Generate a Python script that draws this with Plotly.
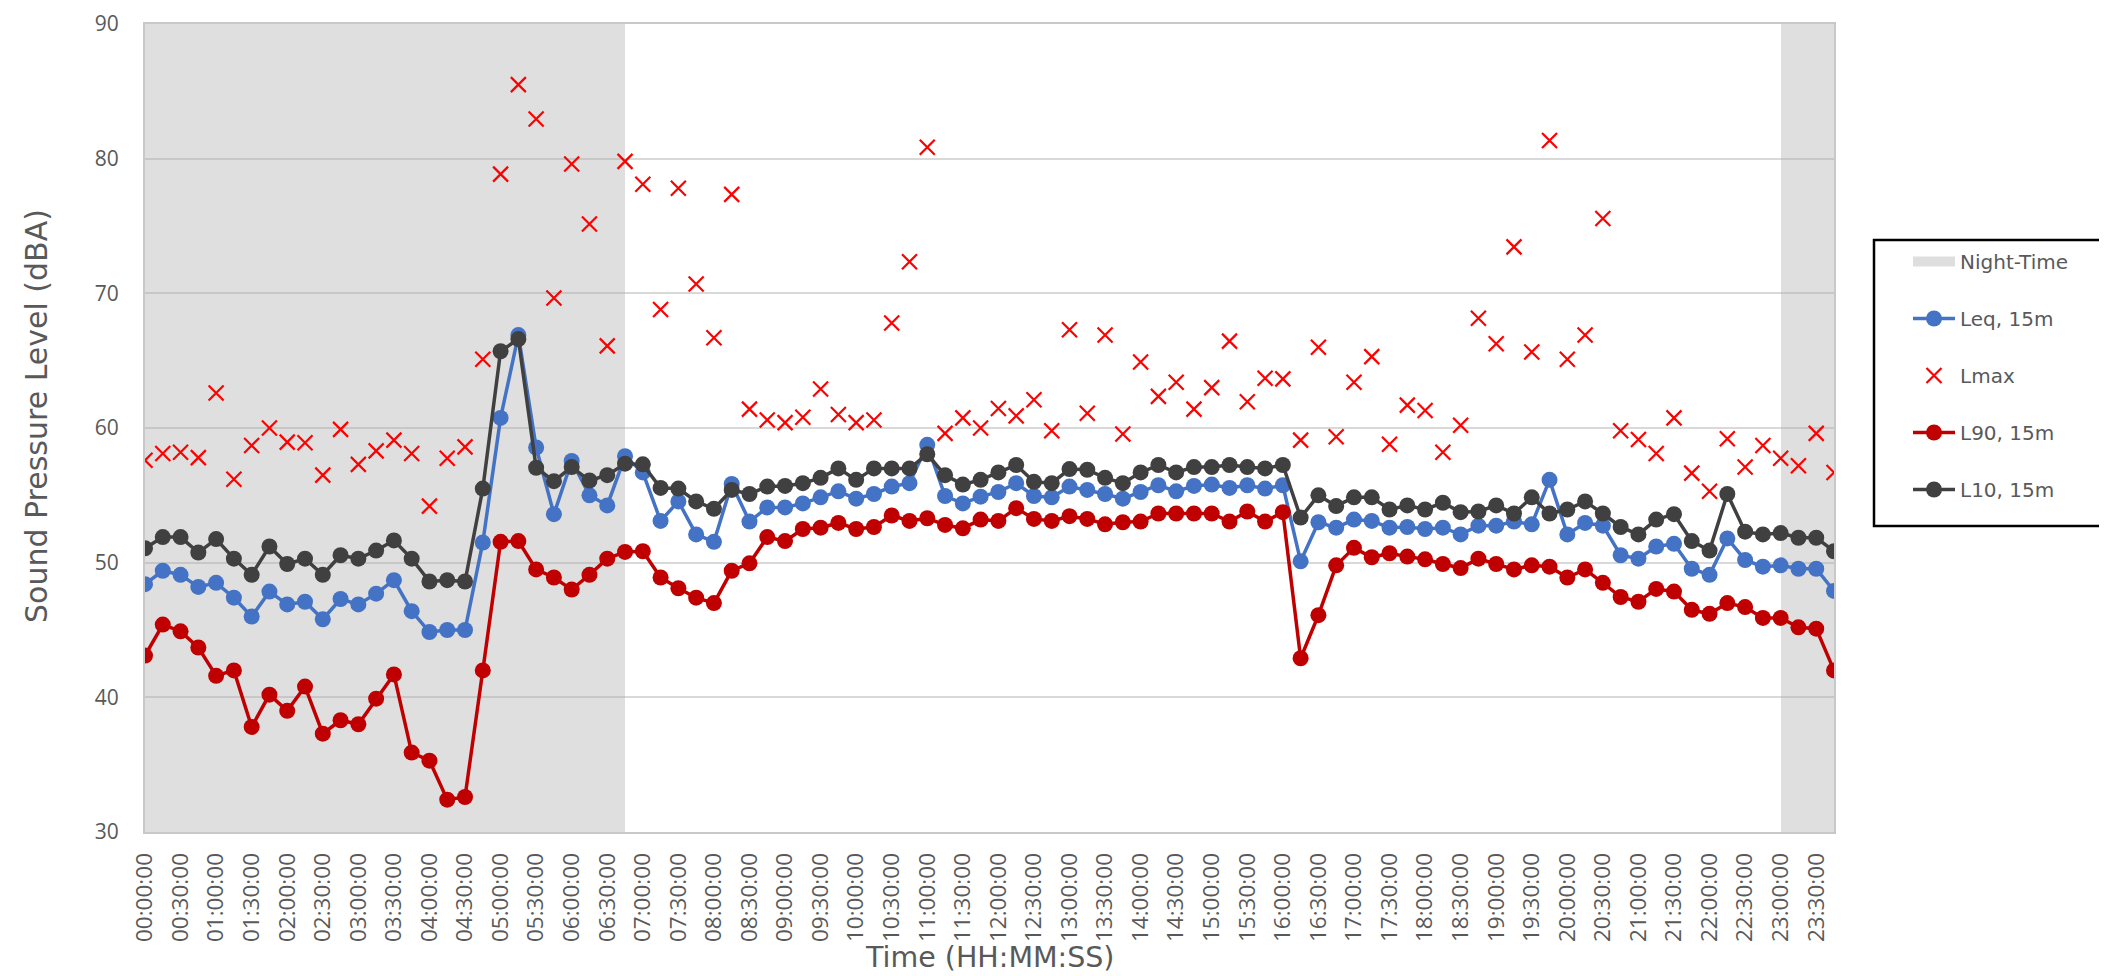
import plotly.graph_objects as go

# ---- data ----
times = [f"{h:02d}:{m:02d}:00" for h in range(24) for m in (0, 15, 30, 45)]
tick_labels = times[::2]

leq = [48.4, 49.4, 49.1, 48.2, 48.5, 47.4, 46.0, 47.85, 46.9, 47.1, 45.8, 47.3, 46.9, 47.7,
       48.7, 46.4, 44.85, 45.0, 45.0, 51.5, 60.75, 66.9, 58.55, 53.6, 57.55, 55.0, 54.25, 57.9,
       56.7, 53.1, 54.55, 52.1, 51.55, 55.85, 53.05, 54.1, 54.1, 54.4, 54.85, 55.3, 54.75, 55.1,
       55.65, 55.9, 58.75, 54.95, 54.4, 54.9, 55.25, 55.9, 54.95, 54.85, 55.65, 55.4, 55.1,
       54.75, 55.25, 55.75, 55.3, 55.7, 55.8, 55.55, 55.75, 55.5, 55.75, 50.1, 53.0, 52.6, 53.2,
       53.1, 52.6, 52.65, 52.5, 52.6, 52.1, 52.75, 52.75, 53.05, 52.85, 56.15, 52.1,
       52.95, 52.75, 50.55, 50.3, 51.2, 51.4, 49.55, 49.1, 51.8, 50.2, 49.7, 49.8, 49.55, 49.55, 47.9]

lmax = [57.6, 58.1, 58.2, 57.8, 62.6, 56.2, 58.7, 60.0, 58.95, 58.9, 56.5, 59.9, 57.3, 58.3,
        59.1, 58.1, 54.2, 57.75, 58.6, 65.1, 78.85, 85.5, 82.95, 69.65, 79.6, 75.15, 66.1, 79.8,
        78.1, 68.8, 77.8, 70.7, 66.7, 77.35, 61.4, 60.6, 60.4, 60.8, 62.9, 61.0, 60.4, 60.6,
        67.8, 72.35, 80.85, 59.6, 60.75, 60.0, 61.45, 60.9, 62.1, 59.8, 67.3, 61.1, 66.9,
        59.55, 64.9, 62.35, 63.4, 61.4, 63.0, 66.45, 61.95, 63.7, 63.65, 59.1, 66.0, 59.35, 63.4,
        65.3, 58.8, 61.7, 61.3, 58.2, 60.2, 68.15, 66.25, 73.45, 65.65, 81.35, 65.1,
        66.9, 75.55, 59.8, 59.15, 58.1, 60.75, 56.65, 55.3, 59.2, 57.1, 58.7, 57.75, 57.2, 59.6, 56.7]

l90 = [43.1, 45.4, 44.9, 43.7, 41.6, 42.0, 37.8, 40.2, 39.0, 40.8, 37.3, 38.3, 38.0, 39.9,
       41.7, 35.9, 35.3, 32.4, 32.6, 42.0, 51.55, 51.6, 49.5, 48.9, 48.0, 49.1, 50.3, 50.8,
       50.85, 48.9, 48.1, 47.4, 47.0, 49.4, 49.95, 51.9, 51.6, 52.5, 52.6, 52.95, 52.5, 52.65,
       53.5, 53.1, 53.3, 52.8, 52.55, 53.2, 53.1, 54.05, 53.25, 53.1, 53.45, 53.25, 52.85,
       53.0, 53.05, 53.65, 53.65, 53.65, 53.65, 53.05, 53.8, 53.05, 53.75, 42.9, 46.1, 49.8, 51.1,
       50.4, 50.7, 50.45, 50.25, 49.9, 49.6, 50.3, 49.9, 49.5, 49.8, 49.7, 48.9,
       49.5, 48.5, 47.45, 47.1, 48.05, 47.85, 46.5, 46.2, 47.0, 46.7, 45.9, 45.9, 45.2, 45.1, 42.0]

l10 = [51.07, 51.9, 51.9, 50.75, 51.75, 50.3, 49.1, 51.2, 49.9, 50.3, 49.1, 50.55, 50.3, 50.9,
       51.65, 50.3, 48.6, 48.7, 48.6, 55.5, 65.7, 66.6, 57.05, 56.05, 57.1, 56.1, 56.5, 57.35,
       57.3, 55.55, 55.5, 54.55, 54.0, 55.4, 55.1, 55.65, 55.7, 55.9, 56.3, 57.0, 56.15, 57.0,
       57.0, 57.0, 58.05, 56.5, 55.8, 56.15, 56.7, 57.25, 56.0, 55.9, 56.95, 56.9, 56.3,
       55.9, 56.7, 57.25, 56.7, 57.1, 57.1, 57.25, 57.1, 57.0, 57.25, 53.35, 55.0, 54.2, 54.85,
       54.85, 53.95, 54.25, 53.95, 54.45, 53.75, 53.8, 54.25, 53.65, 54.85, 53.65, 53.95,
       54.55, 53.65, 52.65, 52.1, 53.2, 53.6, 51.6, 50.9, 55.1, 52.3, 52.1, 52.2, 51.85, 51.85, 50.85]

# night-time periods (23:00 - 07:00)
night_times = times[0:27] + times[92:96]
night_base = 30
night_top = 90

# ---- styling ----
FONT = "Open Sans"
TFONT = "DejaVu Sans"
GREY_TXT = "#595959"
C_LEQ = "#4472C4"
C_L90 = "#C00000"
C_L10 = "#404040"
C_LMAX = "#FF0000"
C_NIGHT = "rgba(170,170,170,0.38)"

fig = go.Figure()

fig.add_trace(go.Bar(
    x=night_times, y=[night_top - night_base] * len(night_times), base=night_base,
    width=1, offset=0, marker=dict(color=C_NIGHT, line=dict(width=0)),
    showlegend=False, hoverinfo="skip"))

fig.add_trace(go.Scatter(
    x=[None], y=[None], mode="lines", name="Night-Time", legendgroup="g0",
    line=dict(color="#DEDEDE", width=14)))

fig.add_trace(go.Scatter(
    x=times, y=leq, mode="lines+markers", name="Leq, 15m", legendgroup="g1",
    line=dict(color=C_LEQ, width=3.5), marker=dict(color=C_LEQ, size=16)))

fig.add_trace(go.Scatter(
    x=times, y=lmax, mode="markers", name="Lmax", legendgroup="g2",
    marker=dict(symbol="x-thin", size=15, line=dict(color=C_LMAX, width=2.2), color=C_LMAX)))

fig.add_trace(go.Scatter(
    x=times, y=l90, mode="lines+markers", name="L90, 15m", legendgroup="g3",
    line=dict(color=C_L90, width=3.5), marker=dict(color=C_L90, size=16)))

fig.add_trace(go.Scatter(
    x=times, y=l10, mode="lines+markers", name="L10, 15m", legendgroup="g4",
    line=dict(color=C_L10, width=3.5), marker=dict(color=C_L10, size=16)))

W, H = 2107, 976
ML, MR, MT, MB = 137, 281, 16, 152
PW, PH = W - ML - MR, H - MT - MB


def px_x(px):
    return (px - ML) / PW


def px_y(py):
    return (H - MB - py) / PH


fig.update_layout(
    width=W, height=H,
    margin=dict(l=ML, r=MR, t=MT, b=MB, autoexpand=False),
    paper_bgcolor="white", plot_bgcolor="white",
    font=dict(family=FONT, color=GREY_TXT, size=21),
    barmode="overlay", bargap=0,
    legend=dict(
        x=px_x(1900), y=px_y(234), xanchor="left", yanchor="top",
        bgcolor="rgba(0,0,0,0)", borderwidth=0,
        font=dict(family=TFONT, size=20, color=GREY_TXT),
        tracegroupgap=28, itemwidth=42, traceorder="grouped"),
    shapes=[dict(type="rect", xref="paper", yref="paper",
                 x0=px_x(1866), x1=px_x(2097), y0=px_y(518), y1=px_y(232),
                 line=dict(color="black", width=2.5), fillcolor="rgba(0,0,0,0)")],
    annotations=[
        dict(text="Sound Pressure Level (dBA)", xref="paper", yref="paper",
             x=px_x(28), y=px_y(408), textangle=-90, showarrow=False,
             font=dict(family=TFONT, size=30, color=GREY_TXT),
             xanchor="center", yanchor="middle"),
        dict(text="Time (HH:MM:SS)", xref="paper", yref="paper",
             x=0.5, y=px_y(950), showarrow=False,
             font=dict(family=TFONT, size=28.5, color=GREY_TXT),
             xanchor="center", yanchor="middle"),
    ],
)

fig.update_xaxes(
    type="category", categoryorder="array", categoryarray=times,
    range=[0, len(times) - 1], tickmode="array", tickvals=tick_labels, ticktext=tick_labels,
    tickangle=-90, tickfont=dict(family=FONT, size=22.5, color=GREY_TXT),
    showgrid=False, showline=True, linecolor="#C8C8C8", linewidth=2, mirror=True,
    ticks="", ticklabelstandoff=10, zeroline=False)

fig.update_yaxes(
    range=[30, 90], dtick=10, tick0=30,
    tickfont=dict(family=FONT, size=21, color=GREY_TXT),
    showgrid=True, gridcolor="#D9D9D9", gridwidth=2,
    showline=True, linecolor="#C8C8C8", linewidth=2, mirror=True,
    ticks="", ticklabelstandoff=20, zeroline=False)

fig.write_html("out.html")
